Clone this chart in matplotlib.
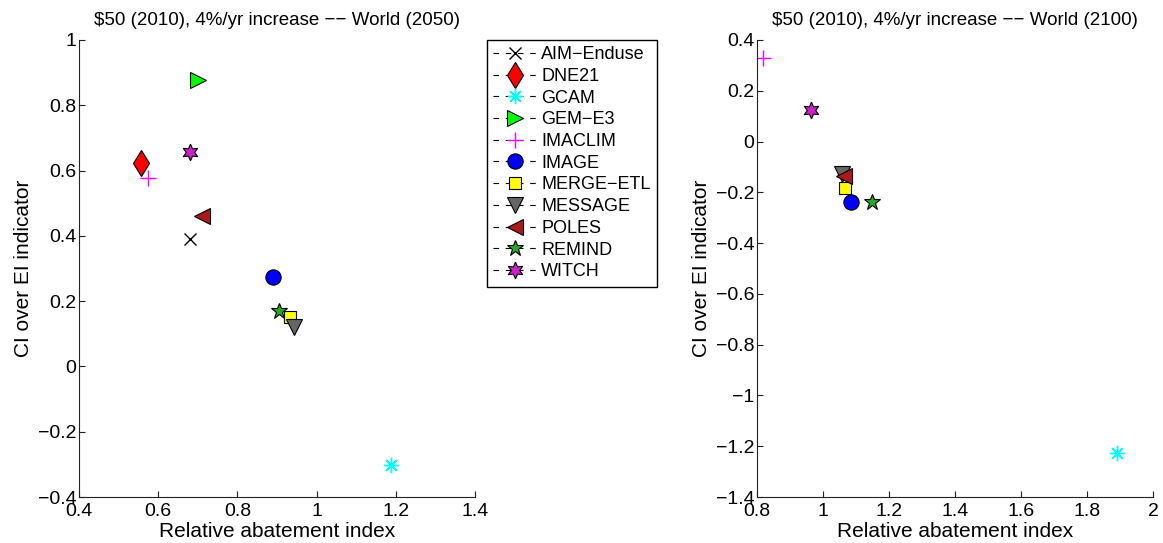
import numpy as np
import matplotlib
matplotlib.use('Agg')
import matplotlib.pyplot as plt
from matplotlib.ticker import FuncFormatter, MultipleLocator

plt.rcParams['font.family'] = ['Liberation Sans', 'DejaVu Sans']

# model names in legend order
models = ['AIM\u2212Enduse', 'DNE21', 'GCAM', 'GEM\u2212E3', 'IMACLIM', 'IMAGE',
          'MERGE\u2212ETL', 'MESSAGE', 'POLES', 'REMIND', 'WITCH']

# 2050 panel (relative abatement index, CI over EI indicator)
x_2050 = [0.680, 0.556, 1.188, 0.700, 0.575, 0.889, 0.932, 0.942, 0.711, 0.905, 0.680]
y_2050 = [0.390, 0.622, -0.302, 0.877, 0.578, 0.275, 0.150, 0.122, 0.461, 0.171, 0.657]

# 2100 panel (None = model not reported)
x_2100 = [None, None, 1.892, None, 0.819, 1.085, 1.068, 1.059, 1.063, 1.150, 0.963]
y_2100 = [None, None, -1.228, None, 0.328, -0.238, -0.183, -0.128, -0.134, -0.238, 0.124]

title_2050 = '\\$50 (2010), 4%/yr increase \u2212\u2212 World (2050)'
title_2100 = '\\$50 (2010), 4%/yr increase \u2212\u2212 World (2100)'

# marker style per model
styles = [
    dict(marker='x', color='black', mfc='black', mec='black', ms=8, mew=1),
    dict(marker='d', color='red', mfc='red', mec='black', ms=13, mew=0.8),
    dict(marker=(8, 2, 0), color='cyan', mfc='cyan', mec='cyan', ms=11, mew=1),
    dict(marker='>', color='lime', mfc='lime', mec='black', ms=12, mew=0.8),
    dict(marker='+', color='magenta', mfc='magenta', mec='magenta', ms=12, mew=1),
    dict(marker='o', color='blue', mfc='blue', mec='black', ms=11, mew=0.8),
    dict(marker='s', color='#ffff00', mfc='#ffff00', mec='black', ms=9, mew=0.8),
    dict(marker='v', color='#666666', mfc='#666666', mec='black', ms=12, mew=0.8),
    dict(marker='<', color='#aa1a1a', mfc='#aa1a1a', mec='black', ms=12, mew=0.8),
    dict(marker='*', color='#22aa22', mfc='#22aa22', mec='black', ms=12, mew=0.8),
    dict(marker=(6, 1, 0), color='#cc22cc', mfc='#cc22cc', mec='black', ms=12, mew=0.8),
]

fmt = FuncFormatter(lambda v, p: ('%g' % round(v, 6)).replace('-', '\u2212'))

fig = plt.figure(figsize=(11.63, 5.43), dpi=100)
ax1 = fig.add_axes([79 / 1163, 1 - 497 / 543, 396 / 1163, 457 / 543])
ax2 = fig.add_axes([757 / 1163, 1 - 497 / 543, 396 / 1163, 457 / 543])

for i in range(len(models)):
    st = styles[i]
    ax1.plot([x_2050[i]], [y_2050[i]], linestyle='none', **st)
    if x_2100[i] is not None:
        ax2.plot([x_2100[i]], [y_2100[i]], linestyle='none', **st)

ax1.set_xlim(0.4, 1.4)
ax1.set_ylim(-0.4, 1.0)
ax2.set_xlim(0.8, 2.0)
ax2.set_ylim(-1.4, 0.4)

for ax, t in [(ax1, title_2050), (ax2, title_2100)]:
    ax.xaxis.set_major_locator(MultipleLocator(0.2))
    ax.yaxis.set_major_locator(MultipleLocator(0.2))
    ax.xaxis.set_major_formatter(fmt)
    ax.yaxis.set_major_formatter(fmt)
    ax.spines['top'].set_visible(False)
    ax.spines['right'].set_visible(False)
    ax.spines['left'].set_color('#222222')
    ax.spines['bottom'].set_color('#222222')
    ax.tick_params(direction='in', length=4, width=0.8, labelsize=14, colors='#222222',
                   labelcolor='black')
    ax.tick_params(axis='x', pad=4)
    ax.tick_params(axis='y', pad=2)
    ax.set_xlabel('Relative abatement index', fontsize=15, labelpad=2)
    ax.set_ylabel('CI over EI indicator', fontsize=15, labelpad=3)
    ax.set_title(t, fontsize=13.5, pad=11)

# legend lines are dashed in the reference
leg_handles = []
for i in range(len(models)):
    h, = ax1.plot([], [], linestyle='--', dashes=(5, 6), lw=0.8, **styles[i])
    h.set_color('black')
    leg_handles.append(h)

fig.legend(leg_handles, models, loc='upper left', bbox_to_anchor=(487 / 1163, 1 - 40 / 543),
           borderaxespad=0, fancybox=False, edgecolor='black', framealpha=1, fontsize=13,
           handlelength=2.4, labelspacing=0.26, handletextpad=0.25, borderpad=0.35)

fig.savefig('out.png', dpi=100)
